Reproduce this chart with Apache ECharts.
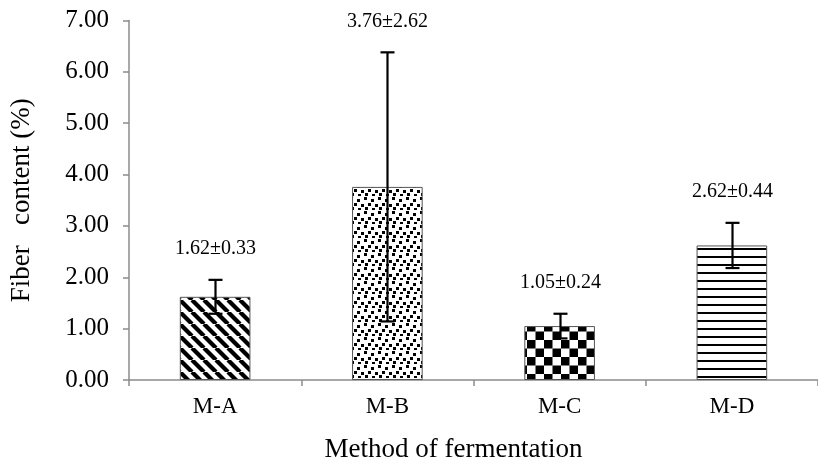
<!DOCTYPE html>
<html>
<head>
<meta charset="utf-8">
<script src="https://cdn.jsdelivr.net/npm/echarts@6/dist/echarts.min.js"></script>
<style>
  html, body { margin: 0; padding: 0; background: #fff; }
  #chart { width: 818px; height: 468px; }
</style>
</head>
<body>
<div id="chart"></div>
<script>
const FONT = "'Liberation Serif', 'Times New Roman', serif";

const methods = ["M-A", "M-B", "M-C", "M-D"];
const means = [1.62, 3.76, 1.05, 2.62];
const sds = [0.33, 2.62, 0.24, 0.44];
const yTicks = ["0.00", "1.00", "2.00", "3.00", "4.00", "5.00", "6.00", "7.00"];

// hatch tiles drawn on small canvases, used as repeating fills
function tile(w, h, draw) {
  const c = document.createElement("canvas");
  c.width = w; c.height = h;
  const ctx = c.getContext("2d");
  ctx.fillStyle = "#fff";
  ctx.fillRect(0, 0, w, h);
  ctx.fillStyle = "#000";
  ctx.strokeStyle = "#000";
  draw(ctx);
  return { image: c, repeat: "repeat" };
}

const stripes = tile(12, 12, ctx => {
  ctx.lineWidth = 4.2;
  for (let k = -12; k <= 24; k += 12) {
    ctx.beginPath();
    ctx.moveTo(k, 0);
    ctx.lineTo(k + 12, 12);
    ctx.stroke();
  }
});

const dots = tile(14, 14, ctx => {
  const spots = [[0, 1], [7, 3], [4, 7], [11, 8], [1, 11], [8, 12]];
  spots.forEach(([x, y]) => ctx.fillRect(x, y, 3, 3));
});

const checker = tile(17, 17, ctx => {
  ctx.fillRect(0, 0, 8.5, 8.5);
  ctx.fillRect(8.5, 8.5, 8.5, 8.5);
});

const hlines = tile(8, 8.5, ctx => {
  ctx.fillRect(0, 0, 8, 2);
});

const fills = [stripes, dots, checker, hlines];

const chart = echarts.init(document.getElementById("chart"), null, { renderer: "canvas" });

chart.setOption({
  animation: false,
  backgroundColor: "#fff",
  textStyle: { fontFamily: FONT, color: "#000" },
  grid: { left: 126, width: 703, top: 20.5, bottom: 84 },
  xAxis: {
    type: "category",
    data: methods,
    name: "Method of fermentation",
    nameLocation: "middle",
    nameGap: 56,
    nameTextStyle: { fontFamily: FONT, fontSize: 27, color: "#000", padding: [0, 40, 0, 0] },
    axisLine: { lineStyle: { color: "#8c8c8c", width: 1.5 } },
    axisTick: { show: true, length: 6, lineStyle: { color: "#8c8c8c", width: 1.5 } },
    axisLabel: { fontFamily: FONT, fontSize: 23, color: "#000", margin: 15 },
  },
  yAxis: {
    type: "value",
    min: 0,
    max: 7,
    interval: 1,
    name: "Fiber   content (%)",
    nameLocation: "middle",
    nameGap: 94,
    nameTextStyle: { fontFamily: FONT, fontSize: 27, color: "#000" },
    axisLine: { show: true, lineStyle: { color: "#8c8c8c", width: 1.5 } },
    axisTick: { show: true, length: 6, lineStyle: { color: "#8c8c8c", width: 1.5 } },
    splitLine: { show: false },
    axisLabel: {
      fontFamily: FONT, fontSize: 25, color: "#000", margin: 20,
      formatter: (v) => yTicks[Math.round(v)],
    },
  },
  series: [
    {
      type: "bar",
      barWidth: "41%",
      data: means.map((v, i) => ({
        value: v,
        itemStyle: { color: fills[i], borderColor: "#555", borderWidth: 1 },
      })),
    },
    {
      type: "custom",
      z: 5,
      data: means.map((v, i) => [i, v - sds[i], v + sds[i], v, sds[i]]),
      renderItem: (params, api) => {
        const lo = api.coord([api.value(0), api.value(1)]);
        const hi = api.coord([api.value(0), api.value(2)]);
        const x = Math.round(hi[0]) + 0.5;
        const cap = 7;
        const style = { stroke: "#000", lineWidth: 2.2 };
        const label = api.value(3).toFixed(2) + "±" + api.value(4).toFixed(2);
        return {
          type: "group",
          children: [
            { type: "line", shape: { x1: x, y1: lo[1], x2: x, y2: hi[1] }, style },
            { type: "line", shape: { x1: x - cap, y1: hi[1], x2: x + cap, y2: hi[1] }, style },
            { type: "line", shape: { x1: x - cap, y1: lo[1], x2: x + cap, y2: lo[1] }, style },
            {
              type: "text",
              style: {
                x: x, y: hi[1] - 31, text: label,
                align: "center", verticalAlign: "middle",
                fontFamily: FONT, fontSize: 20, fill: "#000",
              },
            },
          ],
        };
      },
    },
  ],
});
</script>
</body>
</html>
